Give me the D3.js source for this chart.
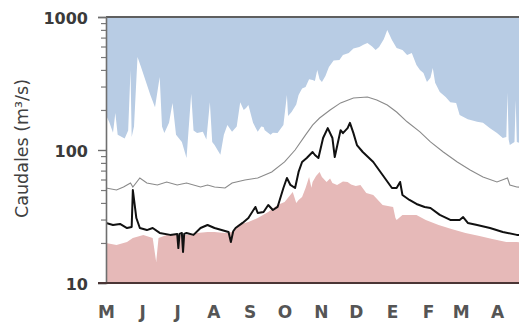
<!DOCTYPE html>
<html>
<head>
<meta charset="utf-8">
<script src="https://cdn.jsdelivr.net/npm/d3@7"></script>
<style>
  html, body { margin: 0; padding: 0; background: #fff; }
  svg { display: block; }
</style>
</head>
<body>
<svg id="chart" width="519" height="323"></svg>
<script>
// ---- DATA (day of hydrological year from 1 May, caudal m3/s) ----
const monthLabels = ["M","J","J","A","S","O","N","D","E","F","M","A"];
const monthStartDays = [0,31,61,92,123,153,184,214,245,276,304,335];
const yTickValues = [10, 100, 1000];

const maxDays = [0,3,6,8,10,16,19,21,22,24,27,30,34,38,42,46,48,50,54,57,60,65,69,73,75,78,83,86,89,91,93,98,101,104,108,112,115,118,120,122,126,130,133,135,136,141,143,147,152,155,156,159,163,165,168,171,174,177,179,181,183,185,188,191,195,200,203,208,212,217,221,224,228,231,234,238,241,245,249,254,258,262,266,269,272,275,278,280,282,286,291,295,300,303,310,318,323,329,335,340,343,344,345,346,350,351,352,358,365];
const maxValues = [183,160,135,190,130,122,140,400,125,150,500,420,330,259,210,354,150,134,160,226,130,115,87,265,140,134,137,120,229,115,109,92,130,154,137,150,229,200,207,218,160,137,150,149,141,130,135,134,154,259,180,193,220,259,290,298,340,336,330,400,340,325,360,421,470,475,518,536,580,595,620,638,600,565,595,680,798,672,585,565,518,536,436,400,380,325,350,414,320,273,250,229,226,183,170,163,160,146,134,123,125,270,120,109,115,238,115,110,105];

const meanDays = [0,9,15,21,23,29,35,44,52,61,69,81,87,93,102,108,119,130,142,153,162,171,177,183,192,201,212,224,232,241,249,258,269,278,289,301,312,323,335,344,346,352,365];
const meanValues = [51.8,50,52.7,56.5,52.7,61.6,56.5,54.6,57.5,54.6,56.5,52.7,54.6,52.7,51.8,56.5,59.5,61.6,68.4,81.3,100,130,154,174,200,226,246,250,238,218,193,163,137,115,96.6,81.3,70.8,62.7,57.5,61.6,54.6,52.7,52];

const yearDays = [0,6,12,18,22,23,26,29,35,40,46,55,61,62,63,65,66,67,69,75,81,87,93,99,105,107,109,111,117,122,128,130,135,139,143,147,152,155,158,162,165,168,172,177,179,182,186,190,194,196,201,203,207,209,212,215,220,229,237,245,249,252,254,260,266,273,278,286,295,303,306,310,318,329,340,352,365];
const yearValues = [28.3,27.3,27.8,25.9,26.4,50,30.8,25.9,25,25.9,23.8,23,23.4,18.3,23.4,23.8,17.1,23.4,23.8,23,25.9,27.3,25.9,25,24.2,20.3,24.5,25.9,28.3,30.8,37.3,33.6,34.2,38.6,35.4,37.3,51.8,61.6,54.6,51.8,68.4,81.3,87.1,96.6,91.7,87.1,123,146,123,88.5,141,134,146,160,134,109,96.6,81.3,64.9,51.8,51.8,57.5,45.9,42.1,39.3,37.3,36.6,32.5,29.8,29.8,31.3,28.3,27.3,25.9,24.2,23,22.6];

const minDays = [0,9,18,23,32,40,43,45,52,61,69,78,87,93,102,108,113,122,130,139,147,153,160,163,165,168,171,174,176,177,180,183,185,189,192,194,198,203,207,210,214,218,223,229,237,246,248,249,254,262,266,274,285,296,308,320,331,343,352,365];
const minValues = [20,19.3,20.3,21.8,23,21.8,14.4,21.8,23,23,23,23.8,24.2,24.2,23.8,24.2,27.3,28.7,30.8,34.2,38.6,40.6,48.3,40,42,44.3,51.8,62.7,52,57.5,63.8,68.4,62.7,57.5,61,56.5,54.6,58,57.5,55,53.7,54.6,47.5,45.9,38.6,37.3,30.8,29.8,32.5,32.5,32.5,29.8,27.3,25.5,23.8,22.6,21.4,20.3,20.3,20];

const zip = (d, v) => d.map((t, i) => ({day: t, q: v[i]}));
const maxSeries = zip(maxDays, maxValues);
const meanSeries = zip(meanDays, meanValues);
const yearSeries = zip(yearDays, yearValues);
const minSeries = zip(minDays, minValues);

// ---- LAYOUT ----
const svg = d3.select("#chart");
const W = 519;
const plotLeft = 106, plotTop = 17, plotBottom = 283;
const x = d3.scaleLinear().domain([0, 365]).range([plotLeft, 532]);
const y = d3.scaleLog().domain([10, 1000]).range([plotBottom, plotTop]);

const defs = svg.append("defs");
defs.append("clipPath").attr("id", "plotclip")
  .append("rect").attr("x", plotLeft).attr("y", plotTop)
  .attr("width", W - plotLeft).attr("height", plotBottom - plotTop);

const plot = svg.append("g").attr("clip-path", "url(#plotclip)");

// blue: region above max
plot.append("path").datum(maxSeries)
  .attr("fill", "#b8cce4")
  .attr("d", d3.area().x(d => x(d.day)).y0(y(1000)).y1(d => y(d.q)));

// pink: region below min
plot.append("path").datum(minSeries)
  .attr("fill", "#e6b9b8")
  .attr("d", d3.area().x(d => x(d.day)).y0(y(10)).y1(d => y(d.q)));

// mean line
plot.append("path").datum(meanSeries)
  .attr("fill", "none").attr("stroke", "#8a8a8a").attr("stroke-width", 1.1)
  .attr("d", d3.line().x(d => x(d.day)).y(d => y(d.q)));

// year line
plot.append("path").datum(yearSeries)
  .attr("fill", "none").attr("stroke", "#111").attr("stroke-width", 2)
  .attr("stroke-linejoin", "round")
  .attr("d", d3.line().x(d => x(d.day)).y(d => y(d.q)));

// top border
svg.append("line").attr("x1", plotLeft).attr("x2", W).attr("y1", plotTop).attr("y2", plotTop)
  .attr("stroke", "#5f5f5f").attr("stroke-width", 2);

// ---- AXES ----
const minorTicks = [];
[10, 100].forEach(b => { for (let k = 2; k <= 9; k++) minorTicks.push(b * k); });

const yMinor = svg.append("g").attr("transform", `translate(${plotLeft},0)`)
  .call(d3.axisLeft(y).tickValues(minorTicks).tickSize(5).tickFormat(""));
yMinor.select(".domain").remove();
yMinor.selectAll(".tick line").attr("stroke", "#7a7a7a").attr("stroke-width", 1.2);

const yAxis = svg.append("g").attr("transform", `translate(${plotLeft},0)`)
  .call(d3.axisLeft(y).tickValues(yTickValues).tickSize(8).tickPadding(10).tickFormat(d3.format("d")));
yAxis.select(".domain").attr("stroke", "#6f6f6f").attr("stroke-width", 1.6);
yAxis.selectAll(".tick line").attr("stroke", "#6f6f6f").attr("stroke-width", 1.4);
yAxis.selectAll(".tick text")
  .attr("font-family", "DejaVu Sans").attr("font-weight", "bold")
  .attr("font-size", 16).attr("fill", "#3a3a3a").attr("dy", "0.42em");

const xAxis = svg.append("g").attr("transform", `translate(0,${plotBottom})`)
  .call(d3.axisBottom(x).tickValues(monthStartDays).tickSize(0).tickPadding(30)
    .tickFormat((d, i) => monthLabels[i]));
xAxis.select(".domain").remove();
xAxis.selectAll(".tick text")
  .attr("font-family", "DejaVu Sans").attr("font-weight", "bold")
  .attr("font-size", 17).attr("fill", "#555").attr("dy", "0.3em");

svg.append("line").attr("x1", plotLeft - 8).attr("x2", W).attr("y1", plotBottom).attr("y2", plotBottom)
  .attr("stroke", "#4a3535").attr("stroke-width", 2);

// y title
svg.append("text")
  .attr("transform", `translate(28,${(75 + 222) / 2}) rotate(-90)`)
  .attr("text-anchor", "middle")
  .attr("font-family", "DejaVu Sans").attr("font-size", 17.5).attr("fill", "#404040")
  .text("Caudales (m³/s)");
</script>
</body>
</html>
